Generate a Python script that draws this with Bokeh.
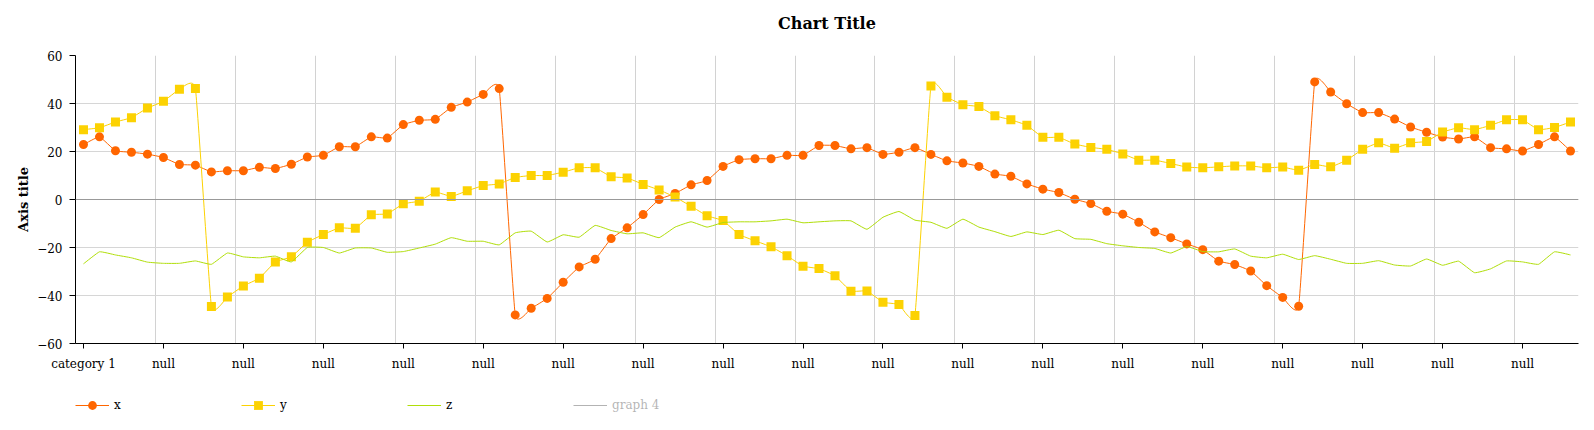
import numpy as np
from bokeh.plotting import figure
from bokeh.layouts import column
from bokeh.models import (FixedTicker, Span, Legend, LegendItem, ColumnDataSource,
                          Range1d, Title)
from bokeh.embed import file_html
from bokeh.resources import INLINE

# ---------------- data ----------------
categories = ["category 1"] + ["null"] * 93

x_vals = [22.9, 26.1, 20.3, 19.7, 18.9, 17.5, 14.6, 14.3, 11.5, 12.0,
          12.0, 13.4, 12.9, 14.7, 17.7, 18.4, 22.0, 22.0, 26.1, 25.6,
          31.2, 33.0, 33.4, 38.4, 40.6, 43.8, 46.2, -48.1, -45.3, -41.2,
          -34.5, -28.1, -24.9, -16.3, -11.8, -6.3, 0.0, 2.5, 6.1, 7.9,
          13.8, 16.6, 17.0, 17.0, 18.4, 18.4, 22.5, 22.5, 21.1, 21.6,
          18.8, 19.7, 21.6, 18.8, 16.1, 15.2, 13.8, 10.6, 9.7, 6.5,
          4.3, 2.9, 0.1, -1.7, -4.9, -6.1, -9.5, -13.5, -15.9, -18.5,
          -20.9, -25.7, -27.1, -29.8, -35.9, -40.8, -44.5, 49.0, 44.8, 39.9,
          36.2, 36.2, 33.5, 30.2, 28.0, 26.0, 25.2, 26.1, 21.6, 21.1,
          20.2, 22.9, 26.1, 20.2]

y_vals = [29.1, 29.9, 32.3, 34.1, 38.1, 40.9, 45.9, 46.3, -44.6, -40.6,
          -36.0, -32.8, -26.0, -23.9, -17.8, -14.6, -11.8, -12.0, -6.4, -6.0,
          -1.8, -0.7, 3.1, 1.3, 3.6, 5.8, 6.5, 9.2, 10.0, 10.0,
          11.4, 13.2, 13.2, 9.5, 9.0, 6.3, 4.0, 1.0, -2.8, -6.8,
          -8.8, -14.6, -17.2, -19.7, -23.4, -27.8, -28.8, -31.8, -38.2, -38.1,
          -42.8, -43.7, -48.3, 47.3, 42.6, 39.5, 38.7, 34.9, 33.2, 30.9,
          25.9, 25.9, 23.1, 21.7, 20.9, 19.0, 16.4, 16.4, 15.0, 13.5,
          13.2, 13.6, 14.0, 14.0, 13.2, 13.5, 12.2, 14.6, 13.6, 16.4,
          20.9, 23.6, 21.4, 23.6, 24.2, 28.1, 29.9, 29.1, 30.9, 33.2,
          33.2, 29.1, 30.0, 32.3]

z_vals = [-26.8, -21.8, -23.1, -24.3, -26.1, -26.6, -26.6, -25.6, -27.0, -22.3,
          -23.9, -24.3, -23.6, -26.0, -20.0, -20.0, -22.3, -20.2, -20.2, -22.0,
          -21.7, -20.2, -18.6, -15.9, -17.4, -17.4, -18.9, -13.9, -13.2, -17.7,
          -14.7, -15.7, -10.8, -12.9, -14.3, -13.9, -15.9, -11.5, -9.3, -11.5,
          -9.6, -9.3, -9.3, -8.9, -8.2, -9.7, -9.3, -8.9, -8.9, -12.4,
          -7.4, -5.0, -8.6, -9.5, -12.0, -8.2, -11.5, -13.4, -15.4, -13.5,
          -14.6, -12.8, -16.3, -16.6, -18.4, -19.3, -20.0, -20.4, -22.3, -19.6,
          -21.7, -21.8, -20.6, -23.6, -24.3, -22.8, -25.0, -23.4, -24.9, -26.6,
          -26.6, -25.5, -27.3, -27.7, -24.8, -27.4, -25.7, -30.5, -28.9, -25.6,
          -26.0, -27.0, -21.8, -23.1]

series_names = ["x", "y", "z", "graph 4"]
y_ticks = [-60, -40, -20, 0, 20, 40, 60]
label_step = 5
chart_title = "Chart Title"
axis_title = "Axis title"

FONT = "DejaVu Serif"
C_X, C_Y, C_Z = "#FF6600", "#FCD202", "#B0DE09"


def smooth_source(vals, k=0.055):
    """Cubic Bezier segments (cardinal spline) through the data points."""
    v = np.asarray(vals, dtype=float)
    n = len(v)
    d = dict(x0=[], y0=[], x1=[], y1=[], cx0=[], cy0=[], cx1=[], cy1=[])
    for i in range(n - 1):
        a, b = max(i - 1, 0), min(i + 2, n - 1)
        d["x0"].append(i); d["y0"].append(v[i])
        d["x1"].append(i + 1); d["y1"].append(v[i + 1])
        d["cx0"].append(i + k * ((i + 1) - a)); d["cy0"].append(v[i] + k * (v[i + 1] - v[a]))
        d["cx1"].append(i + 1 - k * (b - i)); d["cy1"].append(v[i + 1] - k * (v[b] - v[i]))
    return ColumnDataSource(d)


n = len(categories)
idx = list(range(n))

# ---------------- main chart ----------------
p = figure(width=1594, height=380,
           x_range=Range1d(-0.5, n - 0.5), y_range=Range1d(-60, 60),
           output_backend="svg", toolbar_location=None,
           min_border_left=75, min_border_right=16,
           min_border_top=55, min_border_bottom=37,
           title=None)
p.outline_line_color = None
p.background_fill_color = "white"
p.border_fill_color = "white"

# spacer panel (nearest the frame) then the real title above it
p.add_layout(Title(text=" ", text_font_size="12px", standoff=5), "above")
p.add_layout(Title(text=chart_title, text_font=FONT, text_font_size="16px",
                   text_font_style="bold", text_color="black", align="center",
                   standoff=4), "above")

# axes
p.xaxis.ticker = FixedTicker(ticks=idx[::label_step])
p.xaxis.major_label_overrides = {i: categories[i] for i in idx[::label_step]}
p.yaxis.ticker = FixedTicker(ticks=y_ticks)
p.yaxis.axis_label = axis_title
p.yaxis.axis_label_text_font = FONT
p.yaxis.axis_label_text_font_style = "bold"
p.yaxis.axis_label_text_font_size = "13px"
p.yaxis.axis_label_text_color = "black"
p.yaxis.axis_label_standoff = 3
for ax in (p.xaxis[0], p.yaxis[0]):
    ax.major_label_text_font = FONT
    ax.major_label_text_font_size = "12px"
    ax.major_label_text_color = "black"
    ax.axis_line_color = "black"
    ax.major_tick_line_color = "black"
    ax.minor_tick_line_color = None
    ax.major_tick_in = 0
p.xaxis.major_tick_out = 5
p.xaxis.major_label_standoff = 8
p.yaxis.major_tick_out = 6
p.yaxis.major_label_standoff = 7

# grids
p.xgrid.ticker = FixedTicker(ticks=[i - 0.5 for i in idx[label_step::label_step]])
p.xgrid.grid_line_color = "#d2d2d2"
p.ygrid.grid_line_color = "#d6d6d6"
p.add_layout(Span(location=0, dimension="width", line_color="#999999", line_width=1))

# series
p.bezier(x0="x0", y0="y0", x1="x1", y1="y1", cx0="cx0", cy0="cy0", cx1="cx1", cy1="cy1",
         source=smooth_source(x_vals), line_color=C_X, line_width=1)
p.scatter(idx, x_vals, marker="circle", size=9, fill_color=C_X, line_color=None)
p.bezier(x0="x0", y0="y0", x1="x1", y1="y1", cx0="cx0", cy0="cy0", cx1="cx1", cy1="cy1",
         source=smooth_source(y_vals), line_color=C_Y, line_width=1)
p.scatter(idx, y_vals, marker="square", size=9, fill_color=C_Y, line_color=None)
p.bezier(x0="x0", y0="y0", x1="x1", y1="y1", cx0="cx0", cy0="cy0", cx1="cx1", cy1="cy1",
         source=smooth_source(z_vals), line_color=C_Z, line_width=1)

# ---------------- legend strip ----------------
lg_fig = figure(width=1594, height=50, output_backend="svg", toolbar_location=None,
                x_axis_type=None, y_axis_type=None,
                x_range=Range1d(0, 1), y_range=Range1d(0, 1),
                min_border_left=75, min_border_right=16,
                min_border_top=0, min_border_bottom=0)
lg_fig.outline_line_color = None
lg_fig.background_fill_color = "white"
lg_fig.border_fill_color = "white"

nan1 = [np.nan]
lx = lg_fig.line(nan1, nan1, line_color=C_X, line_width=1)
sx = lg_fig.scatter(nan1, nan1, marker="circle", fill_color=C_X, line_color=None)
ly = lg_fig.line(nan1, nan1, line_color=C_Y, line_width=1)
sy = lg_fig.scatter(nan1, nan1, marker="square", fill_color=C_Y, line_color=None)
lz = lg_fig.line(nan1, nan1, line_color=C_Z, line_width=1)
lg = lg_fig.line(nan1, nan1, line_color="black", line_width=1, visible=False)

legend = Legend(items=[LegendItem(label=series_names[0], renderers=[lx, sx]),
                       LegendItem(label=series_names[1], renderers=[ly, sy]),
                       LegendItem(label=series_names[2], renderers=[lz]),
                       LegendItem(label=series_names[3], renderers=[lg])],
                orientation="horizontal", location=(0, 14),
                click_policy="hide",
                glyph_width=34, glyph_height=22, label_standoff=5,
                label_width=121, spacing=6, padding=0, margin=0,
                border_line_color=None, background_fill_alpha=0,
                label_text_font=FONT, label_text_font_size="12px",
                label_text_color="black")
lg_fig.add_layout(legend, "center")

layout = column(p, lg_fig, spacing=0)
open("out.html", "w").write(file_html(layout, INLINE))
